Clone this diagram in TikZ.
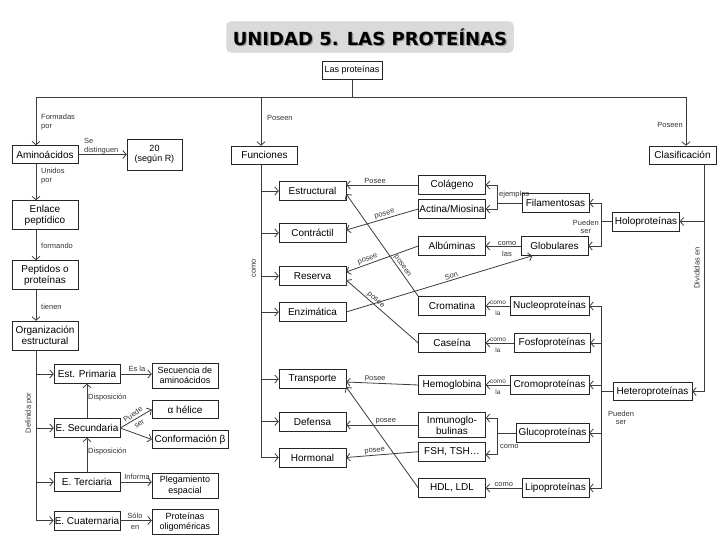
\documentclass[tikz,border=0pt]{standalone}
\usepackage{fontspec}
\setmainfont{Liberation Sans}
\newfontfamily\titlefont{DejaVu Sans}
\usepackage{tikz}
\usetikzlibrary{arrows.meta, positioning}
\definecolor{wire}{RGB}{60,60,60}
\definecolor{plate}{RGB}{218,218,218}

\begin{document}
\begin{tikzpicture}[x=1pt, y=-1pt,
   box/.style={draw=black!85, fill=white, font=\fontsize{10}{11}\selectfont,
               inner sep=1pt, align=center, minimum height=19pt},
   sbox/.style={box, font=\fontsize{9}{10.5}\selectfont},
   lbl/.style={font=\fontsize{7.5}{8.5}\selectfont, text=black!80, inner sep=1pt, align=center},
   lbl2/.style={lbl, font=\fontsize{7.5}{11}\selectfont},
   ln/.style={draw=wire, line width=0.8pt},
   arr/.style={ln, -{Straight Barb[length=3.5pt, width=8pt]}}]
  \useasboundingbox (0,0) rectangle (728,546);

  % title
  \node[fill=plate, draw=black!20, rounded corners=5pt, minimum width=287pt,
        minimum height=31pt] (ttl) at (370,37) {};
  \node[font=\titlefont\bfseries\fontsize{18}{20}\selectfont, text=black!40]
        (ttlshadow) at ([xshift=1.3pt, yshift=-1.3pt]ttl.center) {UNIDAD 5. LAS PROTEÍNAS};
  \node[font=\titlefont\bfseries\fontsize{18}{20}\selectfont] (ttltext) at (ttl.center)
        {UNIDAD 5. LAS PROTEÍNAS};

  \node[box, font=\fontsize{9}{10}\selectfont, minimum width=60pt, minimum height=18pt]
        (prot) at (352,70.5) {Las proteínas};

  % left column
  \node[box, minimum width=66pt, minimum height=18pt] (amino) at (45,154.5) {Aminoácidos};
  \node[sbox, minimum width=55pt, minimum height=31pt] (veinte) at (154.5,154.5) {20\\(según R)};
  \node[box, minimum width=66pt, minimum height=29pt] (enlace) at (45,215) {Enlace\\peptídico};
  \node[box, minimum width=66pt, minimum height=29pt] (pept) at (45,275) {Peptidos o\\proteínas};
  \node[box, minimum width=66pt, minimum height=29pt] (org) at (45,335.5) {Organización\\estructural};
  \node[box, minimum width=66pt] (prim) at (87,374) {Est. Primaria};
  \node[box, minimum width=66pt] (secu) at (87,428) {E. Secundaria};
  \node[box, minimum width=66pt] (terc) at (87,482) {E. Terciaria};
  \node[box, minimum width=66pt] (cuat) at (87,520.5) {E. Cuaternaria};
  \node[sbox, minimum width=66pt, minimum height=25pt] (secuencia) at (185,375.5) {Secuencia de\\aminoácidos};
  \node[box, minimum width=66pt, minimum height=18pt] (alfa) at (185,409.5) {α hélice};
  \node[box, minimum width=76pt, minimum height=18pt] (beta) at (190,439.5) {Conformación β};
  \node[sbox, minimum width=66pt, minimum height=25pt] (pleg) at (185,485.5) {Plegamiento\\espacial};
  \node[sbox, minimum width=66pt, minimum height=25pt] (oligo) at (185,522) {Proteínas\\oligoméricas};

  % functions
  \node[box, minimum width=66pt, minimum height=18pt] (func) at (264.5,155) {Funciones};
  \node[box, minimum width=67pt] (estr) at (312.5,191) {Estructural};
  \node[box, minimum width=67pt] (contr) at (312.5,233) {Contráctil};
  \node[box, minimum width=67pt] (reserva) at (312.5,276) {Reserva};
  \node[box, minimum width=67pt] (enzim) at (312.5,312) {Enzimática};
  \node[box, minimum width=67pt] (transp) at (312.5,379) {Transporte};
  \node[box, minimum width=67pt] (defensa) at (312.5,421.5) {Defensa};
  \node[box, minimum width=67pt] (hormonal) at (312.5,457.5) {Hormonal};

  % examples
  \node[box, minimum width=67pt] (colag) at (452,185) {Colágeno};
  \node[box, minimum width=67pt] (actina) at (452,209) {Actina/Miosina};
  \node[box, minimum width=67pt] (album) at (452,246) {Albúminas};
  \node[box, minimum width=67pt] (cromat) at (452,306) {Cromatina};
  \node[box, minimum width=67pt] (caseina) at (452,343) {Caseína};
  \node[box, minimum width=67pt] (hemo) at (452,385) {Hemoglobina};
  \node[box, minimum width=67pt, minimum height=25pt] (inmuno) at (452,425) {Inmunoglo-\\bulinas};
  \node[box, minimum width=67pt] (fsh) at (452,451.7) {FSH, TSH…};
  \node[box, minimum width=67pt] (hdl) at (452,488) {HDL, LDL};

  % classification
  \node[box, minimum width=67pt, minimum height=18pt] (clasif) at (682.5,155) {Clasificación};
  \node[box, minimum width=67pt] (filam) at (555.5,203) {Filamentosas};
  \node[box, minimum width=67pt] (glob) at (554.5,246) {Globulares};
  \node[box, minimum width=67pt] (holo) at (646,221.5) {Holoproteínas};
  \node[box, minimum width=79pt] (nucleo) at (549.5,306) {Nucleoproteínas};
  \node[box, minimum width=76pt] (fosfo) at (552,343) {Fosfoproteínas};
  \node[box, minimum width=79pt] (cromo) at (549.5,385) {Cromoproteínas};
  \node[box, minimum width=73pt] (gluco) at (552.5,433) {Glucoproteínas};
  \node[box, minimum width=67pt] (lipo) at (555.5,488) {Lipoproteínas};
  \node[box, minimum width=79pt, minimum height=18pt] (hetero) at (652.5,391.5) {Heteroproteínas};

  % spines and brackets
  \coordinate (hub) at (352,97);
  \coordinate (spL) at (36,0);
  \coordinate (spF) at (261,0);
  \coordinate (spC) at (686,0);
  \coordinate (spR) at (704,0);
  \coordinate (brF) at (497,0);
  \coordinate (brG) at (497,0);
  \coordinate (brH) at (601,0);
  \coordinate (inA) at ([yshift=7pt]inmuno.east);
  \coordinate (fsA) at ([yshift=-3pt]fsh.east);

  \draw[ln] (prot) -- (hub);
  \draw[arr] (hub) -| (amino.north -| spL);
  \draw[arr] (hub) -| (func.north -| spF);
  \draw[arr] (hub) -| (clasif.north -| spC);
  \node[lbl, anchor=north west, align=left] (formadas) at (40,113) {Formadas\\por};
  \node[lbl, anchor=west] (poseenF) at (266,118) {Poseen};
  \node[lbl, anchor=east] (poseenC) at (684,125) {Poseen};

  % structure
  \draw[arr] (amino) -- (veinte);
  \node[lbl, anchor=south west, align=left] (sedist) at (83,155) {Se\\distinguen};
  \draw[arr] (amino.south -| spL) -- (enlace.north -| spL);
  \node[lbl, anchor=north west, align=left] (unidos) at (40,167) {Unidos\\por};
  \draw[arr] (enlace.south -| spL) -- (pept.north -| spL);
  \node[lbl, anchor=west] (formando) at (40,246) {formando};
  \draw[arr] (pept.south -| spL) -- (org.north -| spL);
  \node[lbl, anchor=west] (tienen) at (40,307) {tienen};
  \draw[ln] (org.south -| spL) -- (cuat.west -| spL);
  \foreach \n in {prim, secu, terc, cuat}
    \draw[arr] (\n.west -| spL) -- (\n.west);
  \node[lbl, rotate=90] (definida) at (29,413) {Definida por};

  \draw[arr] (prim.east) -- (prim.east -| secuencia.west);
  \node[lbl, anchor=south] (esla) at (137,373) {Es la};
  \draw[arr] (secu) -- (prim);
  \node[lbl, anchor=west] (disp1) at (87,398) {Disposición};
  \draw[arr] (terc) -- (secu);
  \node[lbl, anchor=west] (disp2) at (87,452) {Disposición};
  \draw[arr] (secu.east) -- (alfa.west);
  \draw[arr] (secu.east) -- (beta.west);
  \node[lbl2, rotate=35] (puede) at (136,419) {Puede\\ser};
  \draw[arr] (terc.east) -- (terc.east -| pleg.west);
  \node[lbl, anchor=south] (informa) at (137,481) {Informa};
  \draw[arr] (cuat.east) -- (cuat.east -| oligo.west);
  \node[lbl2] (soloen) at (135,521) {Sólo\\en};

  % functions
  \draw[ln] (func.south -| spF) -- (hormonal.west -| spF);
  \foreach \n in {estr, contr, reserva, enzim, transp, defensa, hormonal}
    \draw[arr] (\n.west -| spF) -- (\n.west);
  \node[lbl, rotate=90] (como) at (254,268) {como};

  \draw[arr] (colag.west) -- (colag.west -| estr.east) node[lbl, pos=0.6, above] (l1) {Posee};
  \draw[arr] (actina.west) -- ([yshift=3pt]contr.east) node[lbl, pos=0.45, above, sloped] (l2) {posee};
  \draw[arr] (cromat.north west) -- ([yshift=-3pt]estr.east) node[lbl, pos=0.27, above, sloped] (l3) {poseen};
  \draw[arr] (album.west) -- ([yshift=4pt]reserva.east) node[lbl, pos=0.68, above, sloped] (l4) {posee};
  \draw[arr] (caseina.west) -- ([yshift=-4pt]reserva.east) node[lbl, pos=0.63, above, sloped] (l5) {posee};
  \draw[arr] (enzim.east) -- ([xshift=-22pt]glob.south) node[lbl, pos=0.57, above, sloped] (l6) {Son};
  \draw[arr] (hemo.west) -- ([yshift=-3pt]transp.east) node[lbl, pos=0.6, above, sloped] (l7) {posee};
  \draw[arr] (hdl.west) -- ([yshift=-8pt]transp.east);
  \draw[arr] (inmuno.west) -- (inmuno.west -| defensa.east) node[lbl, pos=0.45, above] (l8) {posee};
  \draw[arr] (fsh.west) -- (hormonal.east) node[lbl, pos=0.6, above, sloped] (l9) {posee};

  % classification
  \draw[arr] (clasif.south -| spR) |- (hetero.east);
  \draw[arr] (holo.east -| spR) -- (holo.east);
  \node[lbl, rotate=90] (divid) at (697,268) {Divididas en};

  \draw[arr] (holo.west) -| (brH |- filam.east) -- (filam.east);
  \draw[arr] (holo.west) -| (brH |- glob.east) -- (glob.east);
  \node[lbl, anchor=east] (pueden1) at (600,227) {Pueden\\ser};
  \foreach \n in {nucleo, fosfo, cromo, gluco, lipo}
    \draw[arr] (hetero.west) -| (brH |- \n.east) -- (\n.east);
  \node[lbl] (pueden2) at (621,418) {Pueden\\ser};

  \draw[arr] (filam.west) -| (brF |- colag.east) -- (colag.east);
  \draw[arr] (filam.west) -| (brF |- actina.east) -- (actina.east);
  \node[lbl, anchor=south west] (ejem) at (498,199) {ejemplos};

  \draw[arr] (glob) -- (album);
  \node[lbl2] (comolas) at (507,249) {como\\las};
  \draw[arr] (nucleo) -- (cromat);
  \node[lbl2, font=\fontsize{6.5}{11}\selectfont] (comola1) at (498,308) {como\\la};
  \draw[arr] (fosfo) -- (caseina);
  \node[lbl2, font=\fontsize{6.5}{11}\selectfont] (comola2) at (498,345) {como\\la};
  \draw[arr] (cromo) -- (hemo);
  \node[lbl2, font=\fontsize{6.5}{11}\selectfont] (comola3) at (498,387) {como\\la};
  \draw[arr] (gluco.west) -| (brG |- inA) -- (inA);
  \draw[arr] (gluco.west) -| (brG |- fsA) -- (fsA);
  \node[lbl, anchor=west] (comoG) at (499,447) {como};
  \draw[arr] (lipo) -- (hdl) node[lbl, midway, above] (comoL) {como};
\end{tikzpicture}
\end{document}
